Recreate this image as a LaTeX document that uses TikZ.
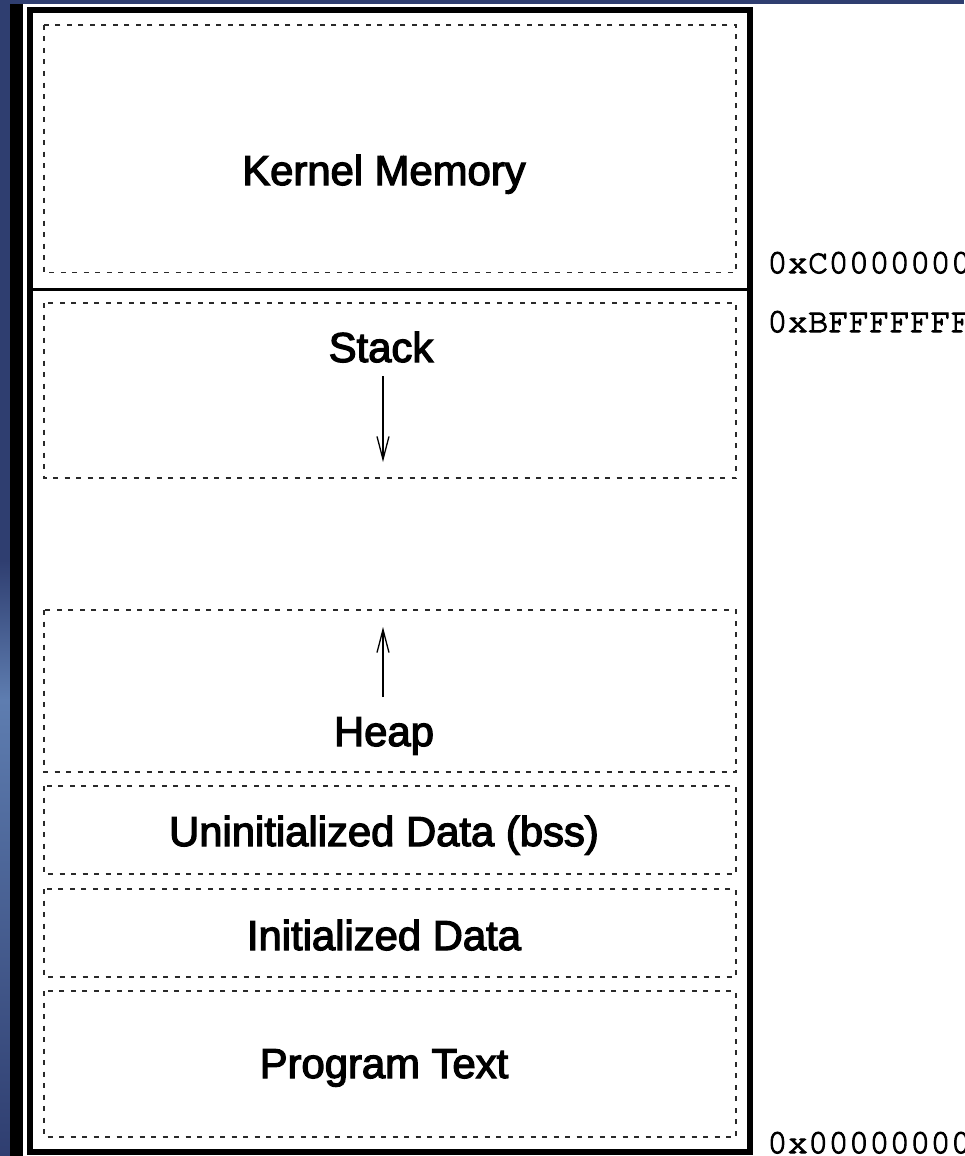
\documentclass[tikz,border=0pt]{standalone}
\usepackage{fontspec}
\setmainfont{Liberation Sans}
\newfontfamily\lblfont{Liberation Sans}[FakeBold=3]
\newfontfamily\addrfont{TeX Gyre Cursor}[FakeBold=3]
\usetikzlibrary{arrows.meta}
\definecolor{navy}{HTML}{2F3E70}
\definecolor{paleblue}{HTML}{5E7DB0}
\definecolor{dashgray}{HTML}{2A2A2A}
\begin{document}
\begin{tikzpicture}[x=1pt,y=-1pt,
  seg/.style={draw=dashgray, line width=1.4pt, dash pattern=on 5pt off 6.5pt},
  lbl/.style={font=\lblfont\fontsize{41.8}{48}\selectfont, anchor=base, inner sep=0pt},
  addr/.style={font=\addrfont\fontsize{34}{40}\selectfont, anchor=base west, inner sep=0pt},
  growarrow/.style={line width=1.3pt, -{Straight Barb[length=23pt,width=12pt]}}]
\useasboundingbox (0,0) rectangle (964,1156);
\fill[white] (0,0) rectangle (964,1156);
% slide background visible at the edges
\fill[navy] (0,0) rectangle (964,4);
\fill[navy] (0,0) rectangle (10,560);
\shade[top color=navy, bottom color=paleblue] (0,560) rectangle (10,700);
\shade[top color=paleblue, bottom color=navy] (0,700) rectangle (10,1156);
\fill[black] (10,4) rectangle (23,1156);
% outer frame and kernel/user divider
\draw[line width=6pt] (29.5,10) rectangle (749.5,1151.5);
\draw[line width=3pt] (32.5,289) -- (746.5,289);
% dashed segments
\draw[seg] (44,25) rectangle (736,272.7);
\draw[seg] (44,303) rectangle (736,478);
\draw[seg] (44,610) rectangle (736,772);
\draw[seg] (44,786) rectangle (736,874);
\draw[seg] (44,889) rectangle (736,977);
\draw[seg] (44,991) rectangle (736,1137);
% labels
\node[lbl] (kernel) at (384,185) {Kernel Memory};
\node[lbl] (stack) at (381,362) {Stack};
\node[lbl] (heap) at (384,746) {Heap};
\node[lbl] (bss) at (384,846) {Uninitialized Data (bss)};
\node[lbl] (init) at (384,950) {Initialized Data};
\node[lbl] (text) at (384,1078) {Program Text};
% growth arrows
\coordinate (stackfrom) at (383,376);
\coordinate (stackto) at (383,462);
\coordinate (heapfrom) at (383,697);
\coordinate (heapto) at (383,627);
\draw[growarrow] (stackfrom) -- (stackto);
\draw[growarrow] (heapfrom) -- (heapto);
% addresses
\node[addr] (addrC) at (767,273) {0xC0000000};
\node[addr] (addrB) at (767,332) {0xBFFFFFFF};
\node[addr] (addr0) at (767,1153) {0x00000000};
\end{tikzpicture}
\end{document}
